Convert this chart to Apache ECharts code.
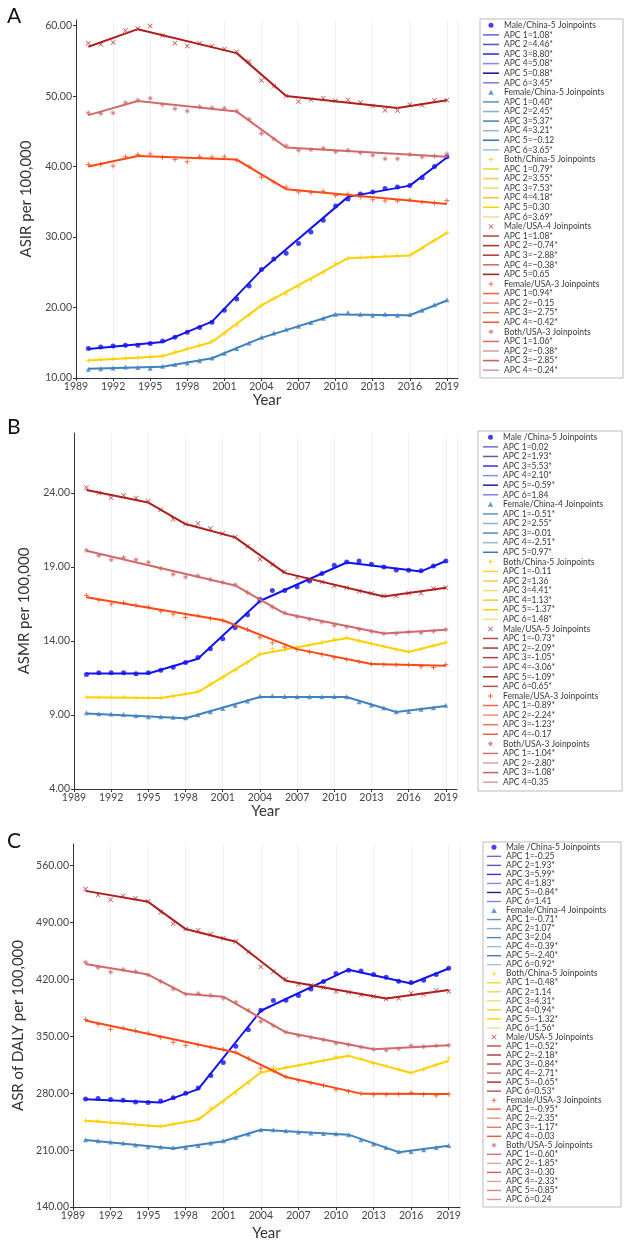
<!DOCTYPE html>
<html>
<head>
<meta charset="utf-8">
<script src="https://cdn.jsdelivr.net/npm/echarts@6/dist/echarts.min.js"></script>
<style>
html, body { margin: 0; padding: 0; background: #fff; }
#chart { width: 630px; height: 1242px; }
</style>
</head>
<body>
<div id="chart"></div>
<script>
// observed years
var years = [1990,1991,1992,1993,1994,1995,1996,1997,1998,1999,2000,2001,2002,2003,2004,2005,2006,2007,2008,2009,2010,2011,2012,2013,2014,2015,2016,2017,2018,2019];
var xTicks = [1989,1992,1995,1998,2001,2004,2007,2010,2013,2016,2019];
var aTicks = [10,20,30,40,50,60];
var bTicks = [4,9,14,19,24];
var cTicks = [140,210,280,350,420,490,560];

// ---- A: ASIR ----
var aMaleChina = [14.17,14.4,14.55,14.64,14.64,14.9,15.26,15.8,16.5,17.15,17.9,19.6,21.2,23.07,25.4,26.9,27.7,29.08,30.7,32.4,34.4,35.4,36.1,36.4,36.9,37.1,37.3,38.4,40.0,41.4];
var aMaleChinaJp = [1990,1996,2000,2004,2011,2016,2019];
var aMaleChinaFit = [14.1,15.1,18.0,25.3,35.7,37.3,41.3];
var aMaleChinaApc = ['1.08*','4.46*','8.80*','5.08*','0.88*','3.45*'];

var aFemaleChina = [11.23,11.33,11.42,11.56,11.5,11.4,11.66,11.9,12.13,12.46,12.84,13.5,14.17,14.97,15.8,16.4,16.9,17.34,17.86,18.47,19.04,19.28,19.04,18.9,19.04,18.9,19.0,19.6,20.4,21.1];
var aFemaleChinaJp = [1990,1996,2000,2004,2010,2016,2019];
var aFemaleChinaFit = [11.3,11.6,12.8,15.7,19.0,18.9,21.0];
var aFemaleChinaApc = ['0.40*','2.45*','5.37*','3.21*','\u22120.12','3.65*'];

var aBothChina = [12.5,12.65,12.75,12.84,12.9,12.98,13.17,13.7,14.2,14.64,15.26,16.3,17.5,18.85,20.3,21.27,21.9,22.9,23.9,24.9,26.2,26.95,27.1,27.2,27.3,27.4,27.4,28.4,29.55,30.6];
var aBothChinaJp = [1990,1996,2000,2004,2011,2016,2019];
var aBothChinaFit = [12.5,13.1,15.1,20.3,27.0,27.4,30.6];
var aBothChinaApc = ['0.79*','3.55*','7.53*','4.18*','0.30','3.69*'];

var aMaleUsa = [57.5,57.35,57.6,59.3,59.6,59.95,58.6,57.5,57.1,57.5,57.1,56.7,56.3,54.9,52.2,51.4,50.06,49.25,49.5,49.7,49.35,49.5,49.1,48.6,48.0,47.97,48.8,48.7,49.4,49.4];
var aMaleUsaJp = [1990,1994,2002,2006,2015,2019];
var aMaleUsaFit = [57.0,59.5,56.1,50.0,48.3,49.4];
var aMaleUsaApc = ['1.08*','\u22120.74*','\u22122.88*','\u22120.38*','0.65'];

var aFemaleUsa = [40.3,40.3,40.1,41.4,41.7,41.8,41.3,41.0,40.7,41.4,41.35,41.4,40.9,40.0,38.5,37.8,37.1,36.4,36.3,36.5,35.9,36.1,35.7,35.3,35.1,35.1,35.3,34.95,34.85,35.2];
var aFemaleUsaJp = [1990,1994,2002,2006,2019];
var aFemaleUsaFit = [40.0,41.5,41.0,36.8,34.7];
var aFemaleUsaApc = ['0.94*','\u22120.15','\u22122.75*','\u22120.42*'];

var aBothUsa = [47.6,47.55,47.6,49.06,49.4,49.7,48.8,48.2,47.9,48.5,48.35,48.26,47.9,46.7,44.7,43.9,42.95,42.3,42.4,42.6,42.1,42.3,41.96,41.6,41.1,41.1,41.7,41.35,41.5,41.8];
var aBothUsaJp = [1990,1994,2002,2006,2019];
var aBothUsaFit = [47.3,49.3,47.8,42.7,41.4];
var aBothUsaApc = ['1.06*','\u22120.38*','\u22122.85*','\u22120.24*'];

// ---- B: ASMR ----
var bMaleChina = [11.74,11.85,11.85,11.85,11.78,11.85,12.03,12.23,12.55,12.89,13.47,14.15,14.91,15.77,16.8,17.41,17.41,17.66,18.06,18.56,19.12,19.34,19.41,19.19,19.0,18.8,18.78,18.74,19.07,19.41];
var bMaleChinaJp = [1990,1995,1999,2004,2011,2017,2019];
var bMaleChinaFit = [11.8,11.8,12.8,16.7,19.3,18.7,19.4];
var bMaleChinaApc = ['0.02','1.93*','5.53*','2.10*','-0.59*','1.84'];

var bFemaleChina = [9.15,9.08,9.06,9.04,8.95,8.88,8.88,8.84,8.81,9.02,9.22,9.44,9.65,9.94,10.28,10.3,10.25,10.23,10.23,10.23,10.25,10.23,9.89,9.67,9.49,9.22,9.24,9.38,9.49,9.65];
var bFemaleChinaJp = [1990,1998,2004,2011,2015,2019];
var bFemaleChinaFit = [9.1,8.78,10.22,10.22,9.2,9.6];
var bFemaleChinaApc = ['-0.51*','2.55*','-0.01','-2.51*','0.97*'];

var bBothChina = [10.19,10.19,10.19,10.21,10.16,10.14,10.16,10.28,10.41,10.61,11.09,11.51,12.0,12.55,13.13,13.47,13.43,13.58,13.72,13.9,14.12,14.21,14.01,13.81,13.61,13.4,13.29,13.45,13.67,13.88];
var bBothChinaJp = [1990,1996,1999,2004,2011,2016,2019];
var bBothChinaFit = [10.2,10.15,10.55,13.1,14.2,13.25,13.9];
var bBothChinaApc = ['-0.11','1.36','4.41*','1.13*','-1.37*','1.48*'];

var bMaleUsa = [24.36,24.0,23.68,23.84,23.66,23.46,22.87,22.22,21.9,21.93,21.6,21.26,21.03,20.4,19.52,19.16,18.67,18.29,18.15,17.99,17.72,17.59,17.36,17.23,17.05,17.03,17.23,17.23,17.54,17.59];
var bMaleUsaJp = [1990,1995,1998,2002,2006,2014,2019];
var bMaleUsaFit = [24.2,23.35,21.9,21.0,18.6,17.0,17.6];
var bMaleUsaApc = ['-0.73*','-2.09*','-1.05*','-3.06*','-1.09*','0.65*'];

var bFemaleUsa = [17.07,16.76,16.49,16.58,16.42,16.3,16.01,15.81,15.59,15.7,15.52,15.36,15.05,14.78,14.26,13.88,13.6,13.43,13.25,13.09,12.86,12.75,12.59,12.44,12.41,12.39,12.39,12.26,12.21,12.41];
var bFemaleUsaJp = [1990,2001,2007,2013,2019];
var bFemaleUsaFit = [16.95,15.4,13.45,12.45,12.32];
var bFemaleUsaApc = ['-0.89*','-2.24*','-1.23*','-0.17'];

var bBothUsa = [20.13,19.77,19.48,19.64,19.48,19.32,18.89,18.51,18.33,18.4,18.15,17.95,17.8,17.27,16.64,16.3,15.9,15.63,15.47,15.29,15.05,14.96,14.8,14.64,14.51,14.51,14.6,14.55,14.66,14.78];
var bBothUsaJp = [1990,2002,2006,2014,2019];
var bBothUsaFit = [20.1,17.75,15.85,14.5,14.75];
var bBothUsaApc = ['-1.04*','-2.80*','-1.08*','0.35'];

// ---- C: ASR of DALY ----
var cMaleChina = [272.8,273.6,272.4,271.5,269.1,268.7,270.3,274.4,280.1,286.3,301.9,317.8,337.9,358.0,382.2,394.0,394.5,400.2,408.4,417.4,427.2,431.3,430.5,426.0,422.7,417.8,416.2,419.0,426.0,433.8];
var cMaleChinaJp = [1990,1996,1999,2004,2011,2016,2019];
var cMaleChinaFit = [272.5,268.5,285,381.5,432,415,433.5];
var cMaleChinaApc = ['-0.25','1.93*','5.99*','1.83*','-0.84*','1.41'];

var cFemaleChina = [222.8,221.5,219.9,218.7,216.2,214.2,213.8,213.3,213.3,215.8,218.7,221.5,225.6,229.7,235.1,235.1,233.8,232.2,231.0,230.6,230.1,228.9,222.8,217.4,213.3,208.4,208.4,210.5,213.3,215.8];
var cFemaleChinaJp = [1990,1997,2001,2004,2011,2015,2019];
var cFemaleChinaFit = [222.5,212,221,235,229,207.5,215.5];
var cFemaleChinaApc = ['-0.71*','1.07*','2.04','-0.39*','-2.40*','0.92*'];

var cBothChina = [246.1,246.1,244.1,243.3,241.2,240.0,239.6,242.0,244.5,248.6,261.7,269.1,280.1,292.4,306.8,312.1,312.1,314.1,316.6,320.3,324.8,326.0,322.3,316.6,313.3,309.6,305.5,308.8,315.0,323.2];
var cBothChinaJp = [1990,1996,1999,2004,2011,2016,2019];
var cBothChinaFit = [246,239,247.5,305.5,326,305,320];
var cBothChinaApc = ['-0.48*','1.14','4.31*','0.94*','-1.32*','1.56*'];

var cMaleUsa = [531.3,523.9,518.2,522.7,519.8,516.1,502.6,488.7,482.1,480.5,475.6,470.7,466.6,453.9,435.8,429.7,420.3,414.1,412.5,410.0,405.1,404.3,401.0,399.0,396.1,396.9,403.1,401.8,406.3,405.1];
var cMaleUsaJp = [1990,1995,1998,2002,2006,2014,2019];
var cMaleUsaFit = [529,515.5,482,466.5,418.5,396.5,407];
var cMaleUsaApc = ['-0.52*','-2.18*','-0.84*','-2.71*','-0.65*','0.53*'];

var cFemaleUsa = [370.7,365.0,358.8,360.4,357.2,353.9,348.6,342.8,338.7,339.5,336.7,334.2,330.1,323.2,310.9,308.0,300.2,295.3,292.4,289.6,284.2,282.2,279.7,278.1,278.1,278.9,280.5,278.5,276.9,278.9];
var cFemaleUsaJp = [1990,2002,2006,2012,2019];
var cFemaleUsaFit = [369.5,330,300,279.5,279];
var cFemaleUsaApc = ['-0.95*','-2.35*','-1.17*','-0.03'];

var cBothUsa = [441.2,434.6,429.3,432.2,429.7,425.6,417.4,408.4,402.2,402.7,400.2,396.9,392.4,382.2,368.2,362.9,355.5,350.6,348.6,345.7,341.6,339.6,336.7,334.2,333.0,334.6,338.3,337.1,338.3,339.1];
var cBothUsaJp = [1990,1995,1998,2001,2006,2013,2019];
var cBothUsaFit = [439,426,402,398.8,355,334,339];
var cBothUsaApc = ['-0.60*','-1.85*','-0.30','-2.33*','-0.85*','0.24'];

// 组样式：线色、图例线的深浅、散点形状
var PLUS = 'path://M4,0H6V4H10V6H6V10H4V6H0V4H4Z';
var CROSS = 'path://M1,0L5,4L9,0L10,1L6,5L10,9L9,10L5,6L1,10L0,9L4,5L0,1Z';
var STAR = 'path://M4,0H6V4H10V6H6V10H4V6H0V4H4Z M1,1L5,4L9,1L9,2L6,5L9,8L9,9L5,6L1,9L1,8L4,5L1,2Z';
var TRI = 'path://M5,0L10,9H0Z';
var LINE_ICON = 'path://M0,0H20V2H0Z';
var sty = {
	maleChina:   {color: '#1212ee', symbol: 'circle', size: 5,
		shades: ['#6b6be6','#5c5caa','#3333dd','#8a8aee','#1e1e99','#8080ea']},
	femaleChina: {color: '#3f82c0', symbol: TRI, size: 5,
		shades: ['#5f96c6','#8fb0cc','#4a8ac0','#9ab8d0','#3b7cb8','#a3c2dc']},
	bothChina:   {color: '#ffd000', symbol: PLUS, size: 5,
		shades: ['#f5d33a','#f0d060','#f5dc70','#f0cc30','#ffd000','#f5e090']},
	maleUsa:     {color: '#b01e1e', symbol: CROSS, size: 5,
		shades: ['#c04848','#a83838','#b84040','#c87070','#a02828','#b85050']},
	femaleUsa:   {color: '#ff4814', symbol: PLUS, size: 5,
		shades: ['#f06a4a','#f49080','#e87858','#f05a38']},
	bothUsa:     {color: '#d06a6a', symbol: STAR, size: 5,
		shades: ['#d87070','#e0a0a0','#d06060','#dca0a0','#e08080','#e89090']}
};

var labelOf = {};
var series = [];
var legendData = [[], [], []];

function addGroup(p, key, header, obs, jp, fit, apc) {
	var s = sty[key];
	var sName = 'p' + p + '_' + key;
	labelOf[sName] = header;
	series.push({
		name: sName, type: 'scatter', xAxisIndex: p, yAxisIndex: p,
		symbol: s.symbol, symbolSize: s.size, z: 2,
		itemStyle: {color: s.color},
		data: years.map(function (y, i) { return [y, obs[i]]; })
	});
	legendData[p].push({name: sName, icon: s.symbol, itemStyle: {color: s.color}});
	for (var k = 0; k < apc.length; k++) {
		var lName = sName + '_' + k;
		labelOf[lName] = 'APC ' + (k + 1) + '=' + apc[k];
		series.push({
			name: lName, type: 'line', xAxisIndex: p, yAxisIndex: p,
			symbol: 'none', z: 3,
			lineStyle: {color: s.color, width: 2},
			itemStyle: {color: s.color},
			data: [[jp[k], fit[k]], [jp[k + 1], fit[k + 1]]]
		});
		var sh = s.shades[k % s.shades.length];
		legendData[p].push({name: lName, icon: LINE_ICON, itemStyle: {color: sh, borderWidth: 0}});
	}
}

addGroup(0, 'maleChina', 'Male/China-5 Joinpoints', aMaleChina, aMaleChinaJp, aMaleChinaFit, aMaleChinaApc);
addGroup(0, 'femaleChina', 'Female/China-5 Joinpoints', aFemaleChina, aFemaleChinaJp, aFemaleChinaFit, aFemaleChinaApc);
addGroup(0, 'bothChina', 'Both/China-5 Joinpoints', aBothChina, aBothChinaJp, aBothChinaFit, aBothChinaApc);
addGroup(0, 'maleUsa', 'Male/USA-4 Joinpoints', aMaleUsa, aMaleUsaJp, aMaleUsaFit, aMaleUsaApc);
addGroup(0, 'femaleUsa', 'Female/USA-3 Joinpoints', aFemaleUsa, aFemaleUsaJp, aFemaleUsaFit, aFemaleUsaApc);
addGroup(0, 'bothUsa', 'Both/USA-3 Joinpoints', aBothUsa, aBothUsaJp, aBothUsaFit, aBothUsaApc);

addGroup(1, 'maleChina', 'Male /China-5 Joinpoints', bMaleChina, bMaleChinaJp, bMaleChinaFit, bMaleChinaApc);
addGroup(1, 'femaleChina', 'Female/China-4 Joinpoints', bFemaleChina, bFemaleChinaJp, bFemaleChinaFit, bFemaleChinaApc);
addGroup(1, 'bothChina', 'Both/China-5 Joinpoints', bBothChina, bBothChinaJp, bBothChinaFit, bBothChinaApc);
addGroup(1, 'maleUsa', 'Male/USA-5 Joinpoints', bMaleUsa, bMaleUsaJp, bMaleUsaFit, bMaleUsaApc);
addGroup(1, 'femaleUsa', 'Female/USA-3 Joinpoints', bFemaleUsa, bFemaleUsaJp, bFemaleUsaFit, bFemaleUsaApc);
addGroup(1, 'bothUsa', 'Both/USA-3 Joinpoints', bBothUsa, bBothUsaJp, bBothUsaFit, bBothUsaApc);

addGroup(2, 'maleChina', 'Male /China-5 Joinpoints', cMaleChina, cMaleChinaJp, cMaleChinaFit, cMaleChinaApc);
addGroup(2, 'femaleChina', 'Female/China-4 Joinpoints', cFemaleChina, cFemaleChinaJp, cFemaleChinaFit, cFemaleChinaApc);
addGroup(2, 'bothChina', 'Both/China-5 Joinpoints', cBothChina, cBothChinaJp, cBothChinaFit, cBothChinaApc);
addGroup(2, 'maleUsa', 'Male/USA-5 Joinpoints', cMaleUsa, cMaleUsaJp, cMaleUsaFit, cMaleUsaApc);
addGroup(2, 'femaleUsa', 'Female/USA-3 Joinpoints', cFemaleUsa, cFemaleUsaJp, cFemaleUsaFit, cFemaleUsaApc);
addGroup(2, 'bothUsa', 'Both/USA-5 Joinpoints', cBothUsa, cBothUsaJp, cBothUsaFit, cBothUsaApc);

function makeX(idx, gap) {
	return {
		type: 'value', gridIndex: idx, min: 1989, max: 2019.9, interval: 3,
		name: 'Year', nameLocation: 'middle', nameGap: gap,
		nameTextStyle: {fontSize: 15, color: '#333'},
		axisLine: {lineStyle: {color: '#333', width: 1}},
		axisTick: {length: 3, lineStyle: {color: '#333'}},
		axisLabel: {fontSize: 10.5, color: '#444', margin: 3, showMaxLabel: false,
			formatter: function (v) { return xTicks.indexOf(v) >= 0 ? String(v) : ''; }},
		splitLine: {show: true, lineStyle: {color: '#f3f3f3', width: 1}}
	};
}

function makeY(idx, name, min, max, step, ticks) {
	return {
		type: 'value', gridIndex: idx, min: min, max: max, interval: step,
		name: name, nameLocation: 'middle', nameGap: 42,
		nameTextStyle: {fontSize: 15, color: '#333'},
		axisLine: {show: true, lineStyle: {color: '#333', width: 1}},
		axisTick: {show: true, length: 3, lineStyle: {color: '#333'}},
		axisLabel: {fontSize: 10.5, color: '#444', margin: 4, showMaxLabel: false,
			formatter: function (v) { return ticks.indexOf(v) >= 0 ? v.toFixed(2) : ''; }},
		splitLine: {show: false}
	};
}

function makeLegend(idx, left, top, pitch, iw) {
	return {
		orient: 'vertical', left: left, top: top, padding: 0,
		itemWidth: iw, itemHeight: 5, itemGap: 0, selectedMode: false,
		symbolKeepAspect: true,
		data: legendData[idx],
		formatter: function (n) { return labelOf[n]; },
		textStyle: {fontSize: 8.5, lineHeight: pitch, color: '#383838', fontFamily: 'Lato'}
	};
}

var chart = echarts.init(document.getElementById('chart'));
var option = {
	animation: false,
	backgroundColor: '#fff',
	textStyle: {fontFamily: 'Lato'},
	title: [
		{text: 'A', left: 2, top: 1, textStyle: {fontSize: 21, fontWeight: 'normal', color: '#111'}},
		{text: 'B', left: 2, top: 412, textStyle: {fontSize: 21, fontWeight: 'normal', color: '#111'}},
		{text: 'C', left: 2, top: 826, textStyle: {fontSize: 21, fontWeight: 'normal', color: '#111'}}
	],
	grid: [
		{left: 76, top: 20, width: 382, height: 358},
		{left: 74, top: 433, width: 383, height: 356},
		{left: 73, top: 844, width: 387, height: 363}
	],
	xAxis: [makeX(0, 12), makeX(1, 13), makeX(2, 19)],
	yAxis: [
		makeY(0, 'ASIR per 100,000', 10, 60.8, 10, aTicks),
		makeY(1, 'ASMR per 100,000', 4, 28.05, 5, bTicks),
		makeY(2, 'ASR of DALY per 100,000', 140, 586.7, 70, cTicks)
	],
	legend: [
		makeLegend(0, 483, 20.5, 9.58, 16),
		makeLegend(1, 483, 432.5, 9.58, 15),
		makeLegend(2, 487, 842.8, 9.03, 14)
	],
	// 图例外框
	graphic: [
		{type: 'rect', shape: {x: 480, y: 19, width: 143, height: 359}, style: {fill: 'none', stroke: '#bbb', lineWidth: 1}},
		{type: 'rect', shape: {x: 478, y: 431, width: 144, height: 360}, style: {fill: 'none', stroke: '#bbb', lineWidth: 1}},
		{type: 'rect', shape: {x: 483, y: 842, width: 138, height: 365}, style: {fill: 'none', stroke: '#bbb', lineWidth: 1}}
	],
	series: series
};
chart.setOption(option);
</script>
</body>
</html>
